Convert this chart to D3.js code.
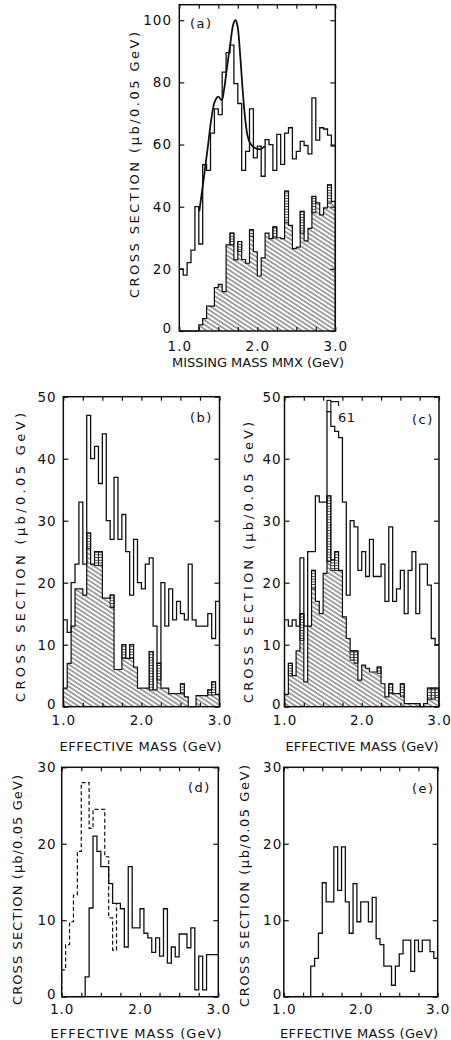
<!DOCTYPE html>
<html><head><meta charset="utf-8">
<script src="https://cdn.jsdelivr.net/npm/d3@7"></script>
<style>body{margin:0;background:#fff}svg{display:block}text{font-family:"DejaVu Sans",sans-serif;fill:#111}</style>
</head><body><svg id="c" width="451" height="1040"></svg>
<script>
// ---------- data ----------
const binStarts = [1.00,1.05,1.10,1.15,1.20,1.25,1.30,1.35,1.40,1.45,1.50,1.55,1.60,1.65,1.70,1.75,1.80,1.85,1.90,1.95,
                   2.00,2.05,2.10,2.15,2.20,2.25,2.30,2.35,2.40,2.45,2.50,2.55,2.60,2.65,2.70,2.75,2.80,2.85,2.90,2.95];
const binWidth = 0.05;
const xTickValues = [1.0,1.25,1.5,1.75,2.0,2.25,2.5,2.75,3.0];
const xTickLabels = ["1.0","2.0","3.0"];
const yTicksA = [0,20,40,60,80,100];
const yTicksBC = [0,10,20,30,40,50];
const yTicksDE = [0,10,20,30];

// (a) missing mass
const aTotal = [20,18,22,26,40,28,53.5,51.7,63.7,71.5,69.6,83.3,89.6,92,79.6,73.2,51.7,57.8,71.5,55.7,
                59.5,49.8,61.6,60,51.7,63.3,53.6,63.7,65.4,55.4,57.8,61,59.7,57,75,61.4,65.4,65,63,59.5];
const aHatch = [0,0,0,0,0,2,4,8,8,14,15,12.7,27.7,27.7,22.9,25.6,23,21.8,30.5,25.5,
                17.7,23.5,31.5,29.7,30,30,29.7,35,34,26.5,27,31.5,29,33,38,41.2,37.4,39.6,41.2,41.7];
const aCapBins = [13,15,18,24,27,31,34,38];
const aCapTops = [31.5,28.8,32.6,33.5,45,38.5,43.3,47];
const aCurveX = [1.256,1.308,1.372,1.415,1.457,1.50,1.543,1.573,1.607,1.65,1.692,1.718,1.744,1.778,1.812,1.842,1.872,1.906,1.97,2.034,2.098];
const aCurveY = [38.5,48,60.5,69,74,75.4,74.3,77.5,84,91.7,98.7,100,98.5,89.6,77.7,69,63.2,60.5,58.9,58.5,59.4];

// (b)
const bTotal = [14,12,20,23,33,23,47,40,42,36,44,30,27,37,27,31,25,18,27,20,
                19,23,24,13,7,20,13,19,14,17,15,14,23,14,13,13,13,15,11,17];
const bHatch = [3,7,13,19,19,18,25.5,23,22.8,22.8,17.5,17.5,16,6,6,7.8,7.8,7.8,6.4,3,
                3,3,2.7,2.7,4.3,3,3,2.1,2.1,2.1,2.1,1.6,0,0,1.8,1.8,1.8,1.9,1.9,2];
const bCapBins = [6,8,9,12,15,17,22,24,30,37,38];
const bCapTops = [28,25,25,18,10,10,8.9,7,3.7,2.7,4];

// (c)
const cTotal = [14,13,14,13,24,13,25,25,34,33,33,47.6,45.2,44.4,43.4,33,18,30,29,22,
                25,21,27,21,21,23,17,29,17,19,22,15,22,25,15,23,23,19.6,11,10];
const cHatch = [2,5,5,9,10.7,4,13,19,17,15,21.5,23.4,22,22,22,14.5,11,7.5,7,4.3,
                6.7,6.2,5.6,5.6,5.4,3.7,1.6,2.1,2.1,2.1,1.6,0.5,0.5,0.5,0.5,0,0.5,1.2,1.2,1.5];
const cCapBins = [1,4,7,11,12,13,17,18,24,27,30,37,38,39];
const cCapTops = [7,15,22,34,23.7,25,9,9,6.4,3.7,3.7,3,3,3];
const cOverflowBin = 11, cOverflowLabel = "61";

// (d)
const dSolid = [0,0,0,0,0,0,2.6,11.6,21,19,17,17,14.8,12.2,12.2,11.5,6.5,17,9,9,
                11.5,8.3,7.7,5.8,7.7,5.3,11.5,4.4,6.5,5.2,8.2,8.2,6.4,9,0.9,5.3,0.9,5.5,5.5,5.5];
const dDashed = [3.5,6.8,9.8,13.3,19,28,28,22,24.5,24.5,24.5,18.3,10.3,6.1];

// (e)
const eSolid = [0,0,0,0,0,0,0,4,5,8.3,14.9,12.4,12.4,19.6,13.9,19.6,12.4,8.3,14.8,9.8,
                12.4,12.4,9.8,13,7.6,6.8,4,4,1.5,4,5.6,7.4,7.4,3.3,7.4,5.9,7.4,7.4,5.9,5];

// ---------- drawing ----------
const svg = d3.select("#c");
const defs = svg.append("defs");
defs.append("pattern").attr("id","diag").attr("patternUnits","userSpaceOnUse")
  .attr("width",12).attr("height",3.7).attr("patternTransform","rotate(33)")
  .append("line").attr("x1",0).attr("x2",12).attr("y1",1.85).attr("y2",1.85)
  .attr("stroke","#111").attr("stroke-width",0.8);
defs.append("pattern").attr("id","horiz").attr("patternUnits","userSpaceOnUse")
  .attr("width",8).attr("height",2.7)
  .append("line").attr("x1",0).attr("x2",8).attr("y1",1.35).attr("y2",1.35)
  .attr("stroke","#111").attr("stroke-width",0.75);

const TF = 13.5; // tick font size
const panels = {
  a:{l:179.3,r:335.3,t:4.7,b:331,ymax:105,yt:yTicksA,ypad:7.3,xpad:10.5,
     lab:"(a)",lx:190,ly:28,
     yt_x:134,yt_c:165,yt_len:266, xt:"MISSING MASS MMX (GeV)",xt_x:258,xt_y:367,xt_len:172},
  b:{l:63.3,r:219.5,t:396.7,b:706.7,ymax:50,yt:yTicksBC,ypad:6.6,xpad:9.2,
     lab:"(b)",lx:190,ly:422,
     yt_x:20,yt_c:557.5,yt_len:289, xt:"EFFECTIVE MASS (GeV)",xt_x:140.5,xt_y:751,xt_len:162},
  c:{l:284.5,r:439,t:396.7,b:706.7,ymax:50,yt:yTicksBC,ypad:2.8,xpad:9.2,
     lab:"(c)",lx:412,ly:424,
     yt_x:248,yt_c:562.5,yt_len:281, xt:"EFFECTIVE MASS (GeV)",xt_x:362,xt_y:751,xt_len:153},
  d:{l:61.7,r:218.3,t:767.3,b:996.7,ymax:30,yt:yTicksDE,ypad:5,xpad:7.8,
     lab:"(d)",lx:188,ly:792,
     yt_x:17.5,yt_c:890,yt_len:230, xt:"EFFECTIVE MASS (GeV)",xt_x:136,xt_y:1038,xt_len:171},
  e:{l:283.8,r:437.7,t:767.3,b:996.7,ymax:30,yt:yTicksDE,ypad:1.5,xpad:7.8,
     lab:"(e)",lx:412,ly:793,
     yt_x:244,yt_c:886,yt_len:242, xt:"EFFECTIVE MASS (GeV)",xt_x:359,xt_y:1038,xt_len:158}
};

function scales(p){
  return {x:d3.scaleLinear().domain([1,3]).range([p.l,p.r]),
          y:d3.scaleLinear().domain([0,p.ymax]).range([p.b,p.t])};
}
function stepPath(vals,x,y,fromBase,toBase){
  let s = fromBase ? `M${x(binStarts[0])},${y(0)}V${y(vals[0])}` : `M${x(binStarts[0])},${y(vals[0])}`;
  for(let i=0;i<vals.length;i++){
    s += `H${x(binStarts[i]+binWidth)}`;
    if(i<vals.length-1) s += `V${y(vals[i+1])}`;
  }
  if(toBase) s += `V${y(0)}`;
  return s;
}
function drawHatched(g,s,D,capBins,capTops){
  g.append("path").attr("d",stepPath(D,s.x,s.y,true,true)+"Z").attr("fill","url(#diag)").attr("stroke","none");
  const top = D.slice();
  capBins.forEach((bi,k)=>{ top[bi]=Math.max(top[bi],capTops[k]); });
  capBins.forEach((bi,k)=>{
    const x0=s.x(binStarts[bi]), x1=s.x(binStarts[bi]+binWidth);
    const y0=s.y(capTops[k]), y1=s.y(D[bi]);
    g.append("rect").attr("x",x0).attr("y",y0).attr("width",x1-x0).attr("height",y1-y0)
      .attr("fill","#fff");
    g.append("rect").attr("x",x0).attr("y",y0).attr("width",x1-x0).attr("height",y1-y0)
      .attr("fill","url(#horiz)").attr("stroke","#111").attr("stroke-width",0.9);
  });
  g.append("path").attr("d",stepPath(top,s.x,s.y,true,true)).attr("fill","none")
    .attr("stroke","#111").attr("stroke-width",1.2);
}
function drawLine(g,s,vals,fromBase){
  return g.append("path").attr("d",stepPath(vals,s.x,s.y,fromBase,false)).attr("fill","none")
    .attr("stroke","#111").attr("stroke-width",1.3);
}
function drawFrame(key){
  const p=panels[key], s=scales(p);
  const g=svg.append("g");
  g.append("rect").attr("x",p.l).attr("y",p.t).attr("width",p.r-p.l).attr("height",p.b-p.t)
    .attr("fill","none").attr("stroke","#111").attr("stroke-width",1.5);
  const fmt = d => { const t=d.toFixed(1); return xTickLabels.includes(t)?t:""; };
  const ax = [
    [d3.axisBottom(s.x).tickValues(xTickValues).tickSizeInner(-4).tickSizeOuter(0).tickPadding(p.xpad).tickFormat(fmt), `translate(0,${p.b})`, "x"],
    [d3.axisTop(s.x).tickValues(xTickValues).tickSizeInner(-4).tickSizeOuter(0).tickFormat(""), `translate(0,${p.t})`, "n"],
    [d3.axisLeft(s.y).tickValues(p.yt).tickSizeInner(-5).tickSizeOuter(0).tickPadding(p.ypad).tickFormat(d3.format("d")), `translate(${p.l},0)`, "y"],
    [d3.axisRight(s.y).tickValues(p.yt).tickSizeInner(-5).tickSizeOuter(0).tickFormat(""), `translate(${p.r},0)`, "n"]
  ];
  ax.forEach(([a,tr,kind])=>{
    const ag=g.append("g").attr("transform",tr).call(a);
    ag.select(".domain").remove();
    ag.selectAll("line").attr("stroke","#111").attr("stroke-width",1.2);
    ag.selectAll("text").attr("font-size",TF).attr("letter-spacing",1)
      .attr("font-family","DejaVu Sans, sans-serif").attr("fill","#111");
    if(kind==="y") ag.selectAll(".tick text").filter(d=>d===0).attr("dy","0.1em");
  });
  g.append("text").attr("x",p.lx).attr("y",p.ly).attr("font-size",13).attr("letter-spacing",1.5).text(p.lab);
  g.append("text").attr("transform",`translate(${p.yt_x},${p.yt_c}) rotate(-90)`)
    .attr("text-anchor","middle").attr("dy","0.35em").attr("font-size",13)
    .attr("textLength",p.yt_len).attr("lengthAdjust","spacing")
    .text("CROSS SECTION (\u03bcb/0.05 GeV)");
  g.append("text").attr("x",p.xt_x).attr("y",p.xt_y).attr("text-anchor","middle").attr("font-size",13)
    .attr("textLength",p.xt_len).attr("lengthAdjust","spacing").text(p.xt);
  return s;
}

// panel a
{
  const p=panels.a, s=scales(p), g=svg.append("g");
  drawHatched(g,s,aHatch,aCapBins,aCapTops);
  drawLine(g,s,aTotal,false);
  const pts = aCurveX.map((x,i)=>[x,aCurveY[i]]);
  g.append("path").attr("d",d3.line().x(d=>s.x(d[0])).y(d=>s.y(d[1])).curve(d3.curveCatmullRom)(pts))
    .attr("fill","none").attr("stroke","#111").attr("stroke-width",1.8);
  drawFrame("a");
}
// panel b
{
  const p=panels.b, s=scales(p), g=svg.append("g");
  drawHatched(g,s,bHatch,bCapBins,bCapTops);
  drawLine(g,s,bTotal,false);
  drawFrame("b");
}
// panel c
{
  const p=panels.c, s=scales(p), g=svg.append("g");
  drawHatched(g,s,cHatch,cCapBins,cCapTops);
  drawLine(g,s,cTotal,false);
  const x0=s.x(binStarts[cOverflowBin]), x1=s.x(binStarts[cOverflowBin]+binWidth);
  g.append("rect").attr("x",x0).attr("y",s.y(49.4)).attr("width",x1-x0).attr("height",s.y(47.6)-s.y(49.4))
    .attr("fill","#fff").attr("stroke","#111").attr("stroke-width",1.1);
  g.append("path").attr("d",`M${x1},${s.y(49.2)}H${s.x(binStarts[cOverflowBin+2]+binWidth)}V${s.y(48.5)}`)
    .attr("fill","none").attr("stroke","#111").attr("stroke-width",1.1);
  g.append("text").attr("x",338).attr("y",422).attr("font-size",13).attr("letter-spacing",0.5).text(cOverflowLabel);
  drawFrame("c");
}
// panel d
{
  const p=panels.d, s=scales(p), g=svg.append("g");
  let dd = `M${s.x(binStarts[0])},${s.y(0)}V${s.y(dDashed[0])}`;
  for(let i=0;i<dDashed.length;i++){
    dd += `H${s.x(binStarts[i]+binWidth)}`;
    dd += `V${s.y(i<dDashed.length-1?dDashed[i+1]:dSolid[i+1])}`;
  }
  g.append("path").attr("d",dd).attr("fill","none").attr("stroke","#111")
    .attr("stroke-width",1.2).attr("stroke-dasharray","4,2.5");
  drawLine(g,s,dSolid,false);
  drawFrame("d");
}
// panel e
{
  const p=panels.e, s=scales(p), g=svg.append("g");
  drawLine(g,s,eSolid,false);
  drawFrame("e");
}
</script>
</body></html>
